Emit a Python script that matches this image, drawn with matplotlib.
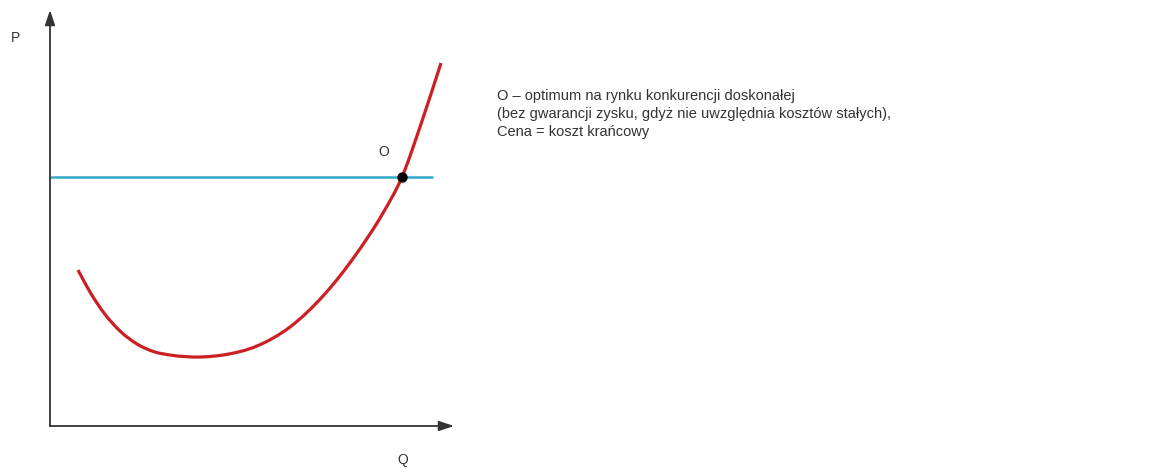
import matplotlib
matplotlib.use("Agg")
import matplotlib.pyplot as plt
from matplotlib.path import Path
from matplotlib.patches import PathPatch

# Marginal cost curve (quantity, price) and the market price level
q_cost = [28, 40, 54, 70, 87, 105, 120, 150, 173, 207, 240, 273, 307, 333, 352, 371, 391]
p_cost = [156, 134, 113, 95, 82, 74, 71, 69, 71, 80, 99, 130, 173, 213, 249, 302, 363]
price_level = 249
price_q_end = 383
optimum_q = 352
optimum_p = 249

axis_labels = ["P", "Q"]
point_label = "O"
legend_lines = [
    "O – optimum na rynku konkurencji doskonałej",
    "(bez gwarancji zysku, gdyż nie uwzględnia kosztów stałych),",
    "Cena = koszt krańcowy",
]

plt.rcParams["font.family"] = ["Liberation Sans", "DejaVu Sans"]


def smooth_path(xs, ys):
    """Cubic Hermite Bezier path through every point, tangents from neighbours."""
    n = len(xs)
    h = [xs[i + 1] - xs[i] for i in range(n - 1)]
    d = [(ys[i + 1] - ys[i]) / h[i] for i in range(n - 1)]
    m = [d[0]]
    for i in range(1, n - 1):
        m.append((h[i] * d[i - 1] + h[i - 1] * d[i]) / (h[i - 1] + h[i]))
    m.append(d[-1])
    verts = [(xs[0], ys[0])]
    codes = [Path.MOVETO]
    for i in range(n - 1):
        t = h[i] / 3
        verts += [(xs[i] + t, ys[i] + m[i] * t),
                  (xs[i + 1] - t, ys[i + 1] - m[i + 1] * t),
                  (xs[i + 1], ys[i + 1])]
        codes += [Path.CURVE4] * 3
    return Path(verts, codes)


fig = plt.figure(figsize=(11.52, 4.72), dpi=100)
ax = fig.add_axes([0, 0, 1, 1])
ax.set_xlim(-50, 1102)
ax.set_ylim(-46, 426)
ax.axis("off")

axis_col = "#333333"
arrow_kw = dict(arrowstyle="-|>,head_length=0.9,head_width=0.3", color=axis_col,
                lw=1.3, shrinkA=0, shrinkB=0)
ax.annotate("", xy=(0, 416), xytext=(0, 0), arrowprops=arrow_kw)
ax.annotate("", xy=(404, 0), xytext=(0, 0), arrowprops=arrow_kw)

ax.plot([0, price_q_end], [price_level, price_level], color="#35a7c9", lw=1.8,
        solid_capstyle="butt")
ax.add_patch(PathPatch(smooth_path(q_cost, p_cost), facecolor="none",
                       edgecolor="#cc1f24", lw=2.3, capstyle="butt",
                       joinstyle="round"))
ax.plot([optimum_q], [optimum_p], "o", color="black", ms=6.5, zorder=5)

txt = dict(color="#333333", fontsize=10)
ax.text(-35, 388, axis_labels[0], ha="center", va="center", **txt)
ax.text(353, -34, axis_labels[1], ha="center", va="center", **txt)
ax.text(334, 274, point_label, ha="center", va="center", **txt)

for i, line in enumerate(legend_lines):
    ax.text(447, 330 - i * 18, line, ha="left", va="center", color="#333333",
            fontsize=10.5)

fig.savefig("out.png", dpi=100, facecolor="white")
